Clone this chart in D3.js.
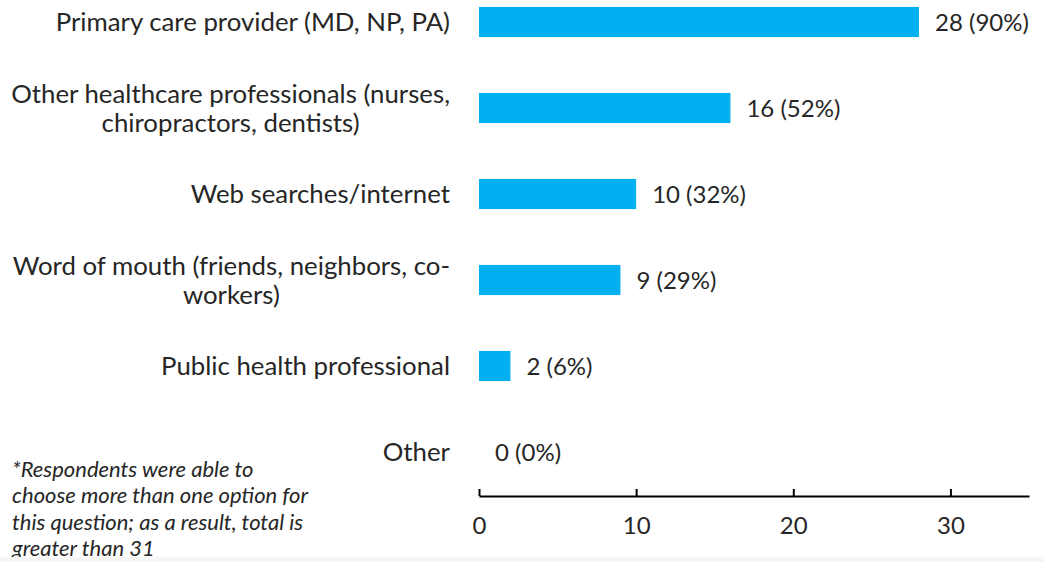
<!DOCTYPE html>
<html>
<head>
<meta charset="utf-8">
<script src="https://cdn.jsdelivr.net/npm/d3@7"></script>
<style>
  html, body { margin: 0; padding: 0; background: #fff; }
  svg { display: block; }
  text { font-family: Lato, "Open Sans", sans-serif; fill: #262626; }
</style>
</head>
<body>
<svg id="chart" width="1044" height="562"></svg>
<script>
// Sources of information reported by respondents (n = 31)
const categories = [
  ["Primary care provider (MD, NP, PA)"],
  ["Other healthcare professionals (nurses,", "chiropractors, dentists)"],
  ["Web searches/internet"],
  ["Word of mouth (friends, neighbors, co-", "workers)"],
  ["Public health professional"],
  ["Other"]
];
const counts = [28, 16, 10, 9, 2, 0];
const percents = [90, 52, 32, 29, 6, 0];
const xTicks = [0, 10, 20, 30];
const footnote = [
  "*Respondents were able to",
  "choose more than one option for",
  "this question; as a result, total is",
  "greater than 31"
];

const svg = d3.select("#chart");
const W = 1044, H = 562;

const x = d3.scaleLinear().domain([0, 35]).range([479, 1029]);
const y = d3.scaleBand()
  .domain(d3.range(categories.length))
  .range([-21, 495])
  .paddingInner(0.65)
  .paddingOuter(0.325);

// Bars
svg.append("g").selectAll("rect")
  .data(counts)
  .join("rect")
  .attr("x", x(0))
  .attr("y", (d, i) => y(i))
  .attr("width", d => x(d) - x(0))
  .attr("height", y.bandwidth())
  .attr("fill", "#00B0F0");

// Value labels
svg.append("g").selectAll("text")
  .data(counts)
  .join("text")
  .attr("x", d => x(d) + 16)
  .attr("y", (d, i) => y(i) + y.bandwidth() / 2)
  .attr("dy", "0.36em")
  .attr("font-size", 24)
  .text((d, i) => `${d} (${percents[i]}%)`);

// Category labels: block right-aligned to the axis, wrapped lines centred within it
const labelRight = 450;
const lineGap = 29;
const catG = svg.append("g");
categories.forEach((lines, i) => {
  const cy = y(i) + y.bandwidth() / 2;
  const g = catG.append("g");
  const texts = lines.map((ln, k) => g.append("text")
    .attr("font-size", 25.8)
    .attr("y", cy + (k - (lines.length - 1) / 2) * lineGap)
    .attr("dy", "0.36em")
    .text(ln));
  const widths = texts.map(t => t.node().getComputedTextLength());
  const maxW = d3.max(widths);
  const centre = labelRight - maxW / 2;
  texts.forEach(t => t.attr("x", centre).attr("text-anchor", "middle"));
});

// X axis along the bottom, ticks pointing up into the plot
const axisY = 496;
const axis = svg.append("g")
  .attr("transform", `translate(0,${axisY})`)
  .call(d3.axisBottom(x).tickValues(xTicks).tickSizeInner(-7).tickSizeOuter(0).tickPadding(21));
axis.select(".domain").attr("stroke", "#000").attr("stroke-width", 2);
axis.selectAll(".tick line").attr("stroke", "#000").attr("stroke-width", 2);
axis.selectAll(".tick text")
  .attr("font-size", 24)
  .attr("font-family", "Lato, 'Open Sans', sans-serif")
  .attr("fill", "#262626");

// Footnote, clipped at the bottom strip
svg.append("clipPath").attr("id", "noteClip")
  .append("rect").attr("x", 0).attr("y", 0).attr("width", W).attr("height", 557);
svg.append("g").attr("clip-path", "url(#noteClip)")
  .selectAll("text")
  .data(footnote)
  .join("text")
  .attr("x", 12)
  .attr("y", (d, i) => 477 + i * 26.3)
  .attr("font-size", 22)
  .attr("font-style", "italic")
  .text(d => d);

svg.append("rect")
  .attr("x", 0).attr("y", 557).attr("width", W).attr("height", H - 557)
  .attr("fill", "#f6f6f6");
</script>
</body>
</html>
